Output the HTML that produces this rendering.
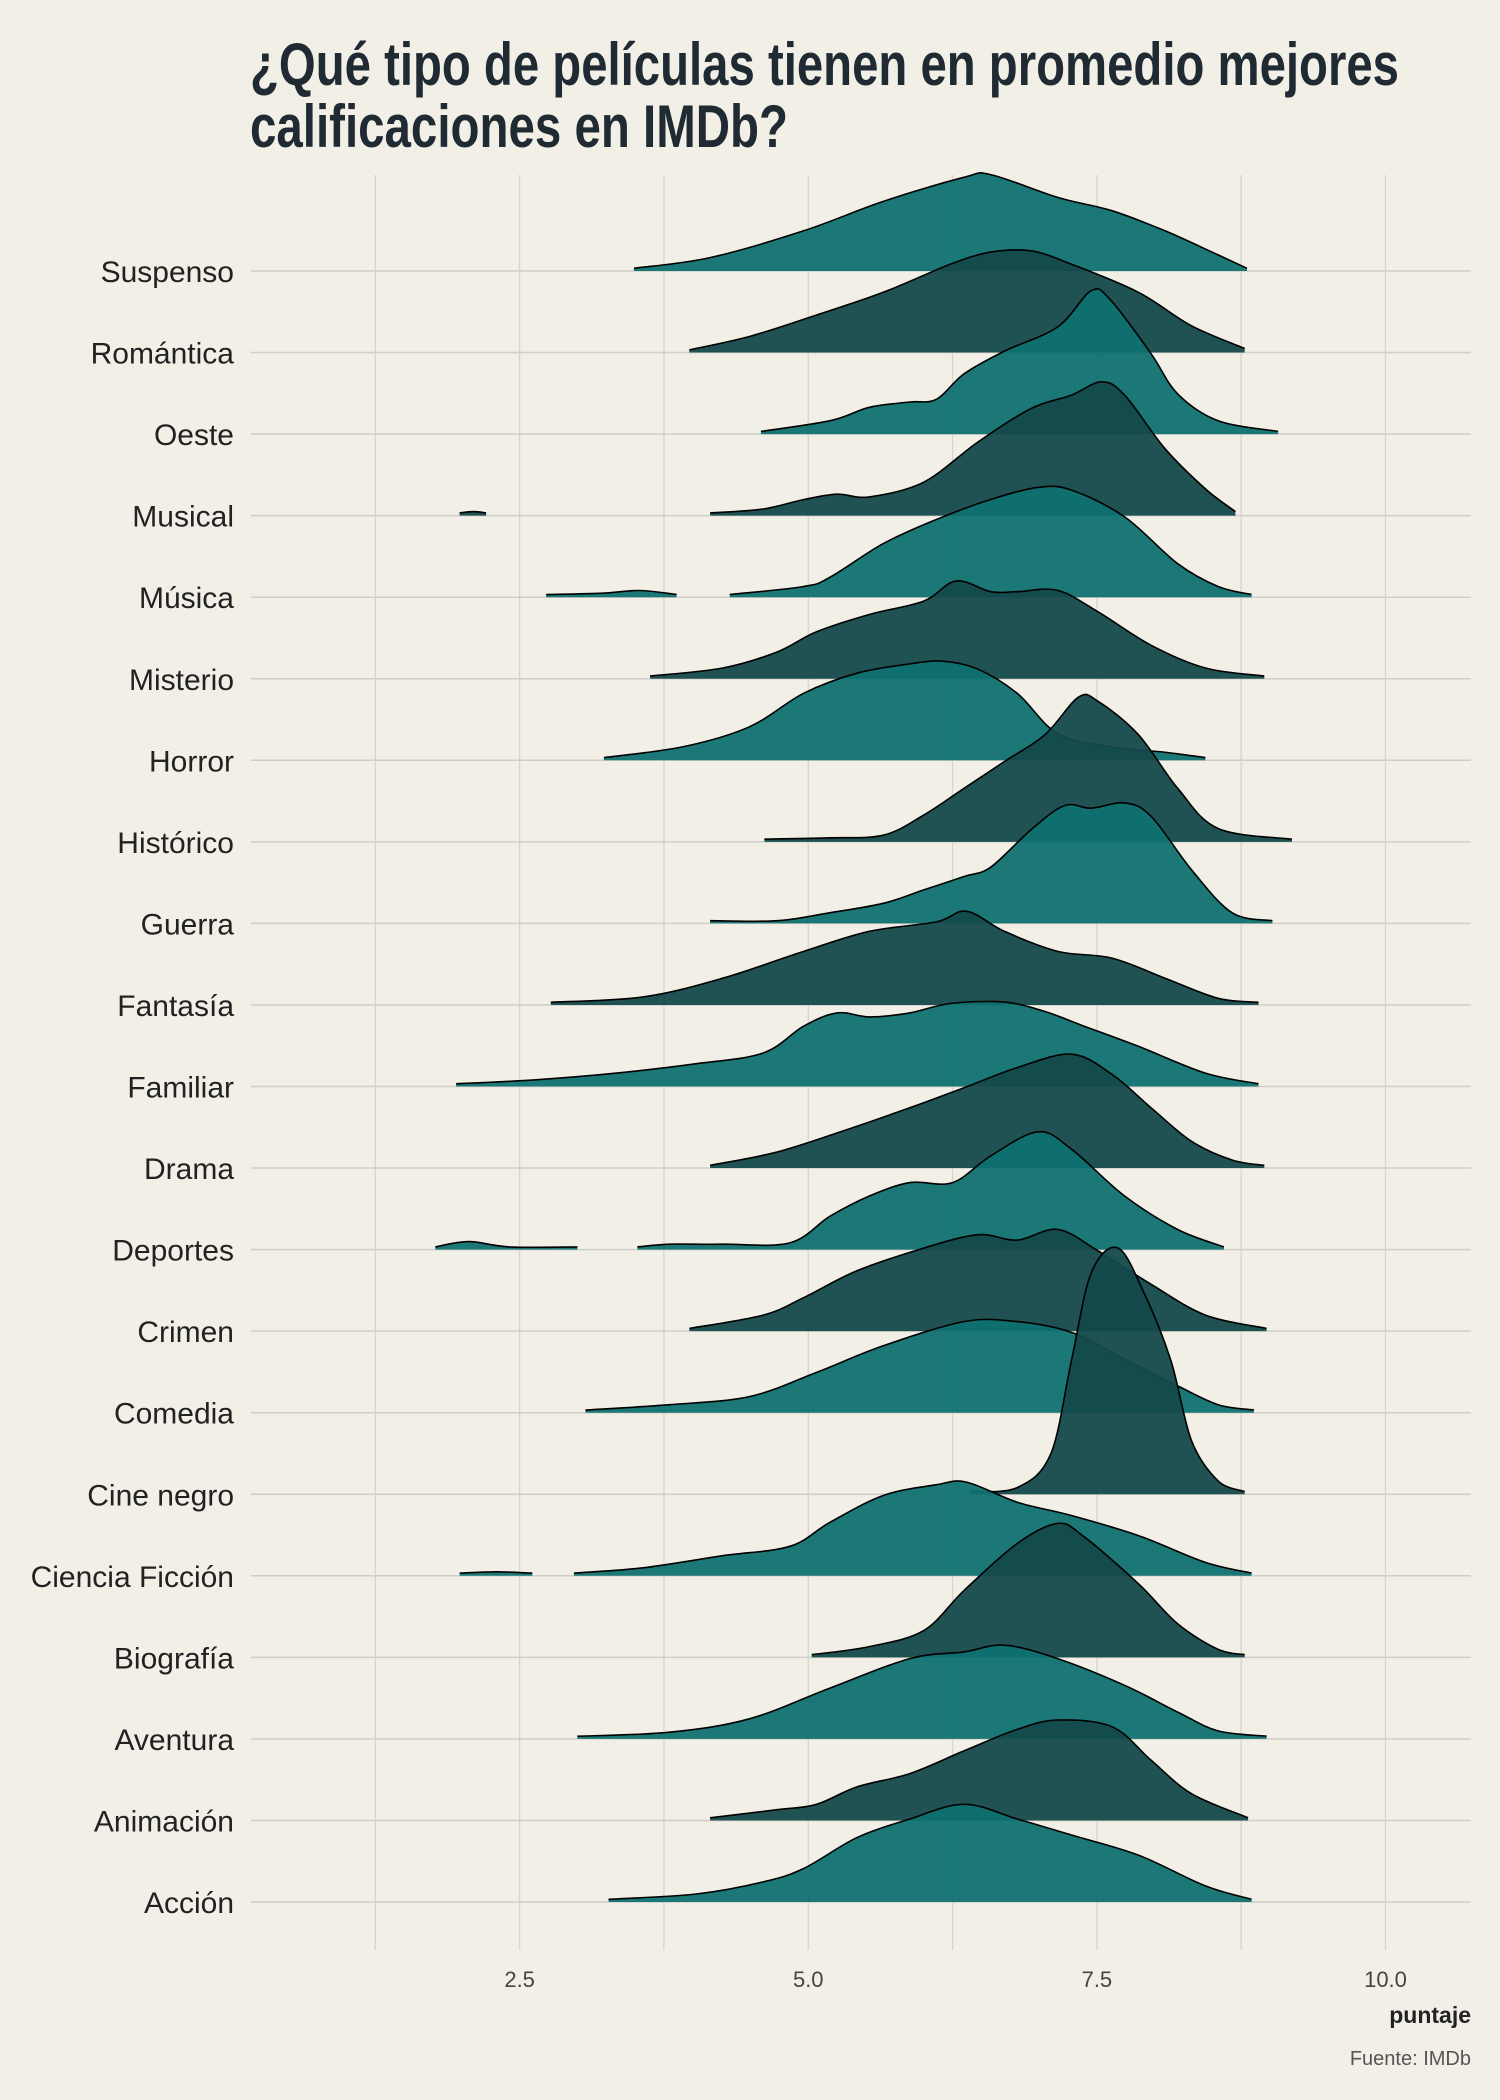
<!DOCTYPE html>
<html><head><meta charset="utf-8">
<style>
html,body{margin:0;padding:0;background:#f2efe7;}
svg{display:block;}
text{font-family:"Liberation Sans",sans-serif;}
</style></head>
<body>
<svg id="chart" width="1500" height="2100" viewBox="0 0 1500 2100">
<rect width="1500" height="2100" fill="#f2efe7"/>
<text x="250" y="85" font-size="60" font-weight="bold" fill="#1f2a33" textLength="1149" lengthAdjust="spacingAndGlyphs">¿Qué tipo de películas tienen en promedio mejores</text>
<text x="250" y="147" font-size="60" font-weight="bold" fill="#1f2a33" textLength="538" lengthAdjust="spacingAndGlyphs">calificaciones en IMDb?</text>
<g id="grid"></g>
<g id="ridges"></g>
<g id="labels"></g>
<text x="1471" y="2023" font-size="23" text-anchor="end" fill="#222" font-weight="bold">puntaje</text>
<text x="1471" y="2065" font-size="20" text-anchor="end" fill="#555">Fuente: IMDb</text>
</svg>
<script>
const genres = ["Suspenso","Romántica","Oeste","Musical","Música","Misterio","Horror","Histórico","Guerra","Fantasía","Familiar","Drama","Deportes","Crimen","Comedia","Cine negro","Ciencia Ficción","Biografía","Aventura","Animación","Acción"];
const xTicks = [2.5,5.0,7.5,10.0];
const xTickLabels = ["2.5","5.0","7.5","10.0"];
const xMinor = [1.25,3.75,6.25,8.75];
// each ridge: list of segments; each segment = [[score, density], ...]
const densities = [
 [[[3.49,2],[4.15,10],[4.96,30],[5.65,52],[6.35,70],[6.58,72],[7.16,55],[7.63,45],[8.09,30],[8.55,12],[8.8,2]]],
 [[[3.97,2],[4.49,12],[5.07,28],[5.65,45],[6.23,66],[6.58,75],[6.93,76],[7.28,66],[7.86,45],[8.32,20],[8.78,3]]],
 [[[4.59,2],[5.19,10],[5.53,20],[5.88,24],[6.11,26],[6.35,45],[6.7,62],[7.16,80],[7.45,107],[7.62,100],[7.97,60],[8.2,30],[8.55,10],[9.07,2]]],
 [[[1.98,2],[2.1,3],[2.21,2]],[[4.15,2],[4.61,5],[4.96,12],[5.25,16],[5.53,14],[6.0,25],[6.47,55],[6.93,80],[7.28,90],[7.54,100],[7.74,90],[8.09,50],[8.44,20],[8.7,3]]],
 [[[2.73,2],[3.22,3],[3.54,5],[3.86,2]],[[4.32,2],[4.96,8],[5.19,15],[5.65,40],[6.11,58],[6.58,73],[6.99,82],[7.28,80],[7.74,60],[8.2,25],[8.55,8],[8.84,2]]],
 [[[3.63,2],[4.26,8],[4.73,20],[5.07,35],[5.53,48],[6.0,58],[6.28,73],[6.58,65],[6.81,65],[7.16,66],[7.51,50],[7.97,25],[8.44,8],[8.95,2]]],
 [[[3.23,2],[3.91,10],[4.49,25],[4.96,50],[5.42,65],[5.88,72],[6.17,74],[6.47,68],[6.81,50],[7.16,20],[7.63,10],[8.09,6],[8.44,2]]],
 [[[4.62,2],[5.19,3],[5.65,5],[6.0,20],[6.35,40],[6.7,60],[7.05,80],[7.34,108],[7.51,105],[7.86,80],[8.2,40],[8.55,10],[9.19,2]]],
 [[[4.15,2],[4.73,2],[5.19,8],[5.65,15],[6.0,25],[6.35,35],[6.58,42],[6.93,70],[7.22,88],[7.45,86],[7.74,90],[7.97,80],[8.32,40],[8.67,8],[9.02,2]]],
 [[[2.77,2],[3.57,6],[4.26,20],[4.96,40],[5.53,55],[6.11,62],[6.37,70],[6.7,55],[7.16,40],[7.63,35],[8.09,20],[8.55,5],[8.9,2]]],
 [[[1.95,2],[2.64,5],[3.34,10],[4.03,17],[4.61,25],[4.96,45],[5.25,55],[5.53,52],[5.88,55],[6.23,62],[6.7,63],[7.05,56],[7.39,45],[7.86,30],[8.44,10],[8.9,2]]],
 [[[4.15,2],[4.73,12],[5.31,28],[5.88,45],[6.35,60],[6.81,75],[7.28,85],[7.63,70],[7.97,45],[8.32,20],[8.67,6],[8.95,2]]],
 [[[1.77,2],[2.06,6],[2.41,2],[3.0,2]],[[3.52,2],[3.8,4],[4.26,4],[4.84,5],[5.19,25],[5.53,40],[5.88,50],[6.25,50],[6.58,70],[6.99,88],[7.28,75],[7.74,40],[8.2,15],[8.6,2]]],
 [[[3.97,2],[4.61,12],[4.96,25],[5.42,45],[6.0,62],[6.47,72],[6.81,68],[7.16,76],[7.51,60],[7.97,35],[8.44,12],[8.97,2]]],
 [[[3.07,2],[3.8,6],[4.49,12],[5.07,30],[5.65,50],[6.35,68],[6.81,68],[7.28,60],[7.74,40],[8.2,20],[8.55,6],[8.86,2]]],
 [[[6.41,2],[6.81,5],[7.1,30],[7.28,100],[7.45,165],[7.68,184],[7.91,150],[8.14,100],[8.32,40],[8.55,10],[8.78,2]]],
 [[[1.98,2],[2.3,3],[2.61,2]],[[2.97,2],[3.57,6],[4.26,15],[4.84,22],[5.19,40],[5.65,60],[6.11,68],[6.37,70],[6.81,55],[7.28,45],[7.86,30],[8.44,10],[8.84,2]]],
 [[[5.03,2],[5.53,8],[6.0,20],[6.35,50],[6.81,85],[7.16,100],[7.39,90],[7.86,55],[8.2,25],[8.55,6],[8.78,2]]],
 [[[3.0,2],[3.8,5],[4.49,15],[5.19,38],[5.88,60],[6.35,65],[6.7,70],[7.16,60],[7.74,40],[8.2,20],[8.55,6],[8.97,2]]],
 [[[4.15,2],[4.73,8],[5.07,12],[5.42,25],[5.88,35],[6.35,52],[6.81,68],[7.16,75],[7.63,70],[7.97,45],[8.32,20],[8.81,2]]],
 [[[3.27,2],[4.03,6],[4.61,15],[4.96,25],[5.42,48],[5.88,62],[6.35,73],[6.81,62],[7.28,50],[7.86,35],[8.44,12],[8.84,2]]]
];
const NS="http://www.w3.org/2000/svg";
const X0=231, XS=115.45, Y0=271, YS=81.55, HS=1.339;
const xPos=v=>X0+v*XS;
const yBase=i=>Y0+i*YS;
const hPos=(i,d)=>yBase(i)-d*HS;
const grid=document.getElementById('grid');
const ridges=document.getElementById('ridges');
const labels=document.getElementById('labels');
function mk(tag,attrs,parent){const e=document.createElementNS(NS,tag);for(const k in attrs)e.setAttribute(k,attrs[k]);parent.appendChild(e);return e;}
xMinor.concat(xTicks).forEach(v=>{
 const l=mk('line',{x1:xPos(v),x2:xPos(v),y1:175,y2:1950,stroke:'#d6d4cd','stroke-width':1.3},grid);
 
 
});
genres.forEach((g,i)=>{
 const l=mk('line',{x1:251,x2:1471,y1:yBase(i),y2:yBase(i),stroke:'#d0cec8','stroke-width':1.5},grid);
 
 
 const t=mk('text',{x:234,y:yBase(i)+11,'font-size':30,'text-anchor':'end',fill:'#222'},labels);
 t.textContent=g;
 
 
});
xTicks.forEach((v,k)=>{
 const t=mk('text',{x:xPos(v),y:1987,'font-size':22,'text-anchor':'middle',fill:'#444'},labels);
 t.textContent=xTickLabels[k];
 
 
});
function smooth(pts){
 let d='M'+pts[0][0]+','+pts[0][1];
 for(let i=0;i<pts.length-1;i++){
  const p0=pts[Math.max(0,i-1)],p1=pts[i],p2=pts[i+1],p3=pts[Math.min(pts.length-1,i+2)];
  const c1=[p1[0]+(p2[0]-p0[0])/6,p1[1]+(p2[1]-p0[1])/6];
  const c2=[p2[0]-(p3[0]-p1[0])/6,p2[1]-(p3[1]-p1[1])/6];
  d+=' C'+c1[0].toFixed(1)+','+c1[1].toFixed(1)+' '+c2[0].toFixed(1)+','+c2[1].toFixed(1)+' '+p2[0].toFixed(1)+','+p2[1].toFixed(1);
 }
 return d;
}
densities.forEach((segs,i)=>{
 const fill=i%2===0?'#0f7170':'#14494b';
 segs.forEach(seg=>{
  const pts=seg.map(p=>[xPos(p[0]),hPos(i,p[1])]);
  const top=smooth(pts);
  const area=top+' L'+pts[pts.length-1][0]+','+yBase(i)+' L'+pts[0][0]+','+yBase(i)+' Z';
  const a=mk('path',{d:area,fill:fill,'fill-opacity':0.95,stroke:'none'},ridges);
  
  
  const o=mk('path',{d:top,fill:'none',stroke:'#000','stroke-width':1.6},ridges);
  
  
 });
});
</script>
</body></html>
